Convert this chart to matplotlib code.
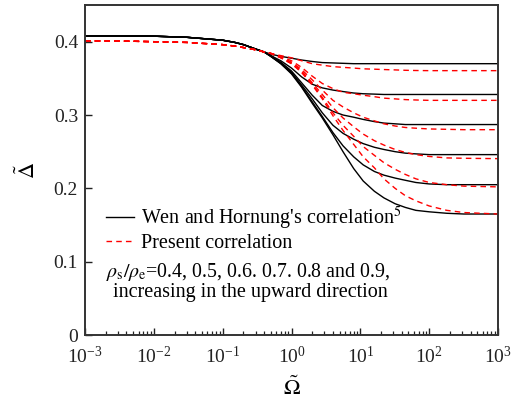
import numpy as np
import matplotlib
matplotlib.use("Agg")
import matplotlib.pyplot as plt

plt.rcParams['font.family'] = ['Liberation Serif', 'DejaVu Serif']
plt.rcParams['mathtext.fontset'] = 'stix'

# Omega grid (read positions)
omega = [1e-3, 3e-3, 1e-2, 3e-2, 0.1, 0.15, 0.2, 0.3, 0.4, 0.5, 0.7, 1, 1.4, 2, 2.8, 4, 5.6, 8,
         11, 16, 22, 32, 45, 64, 100, 180, 320, 1000]

# Wen and Hornung's correlation (black), rho_s/rho_e = 0.9 ... 0.4 (top to bottom)
wen_09 = [0.408, 0.408, 0.4075, 0.406, 0.402, 0.399, 0.396, 0.390, 0.386, 0.383, 0.380, 0.3775, 0.375, 0.373,
          0.3715, 0.371, 0.3705, 0.370, 0.370, 0.370, 0.370, 0.370, 0.370, 0.370, 0.370, 0.370, 0.370, 0.370]
wen_08 = [0.408, 0.408, 0.4075, 0.406, 0.402, 0.399, 0.396, 0.390, 0.386, 0.381, 0.374, 0.364, 0.352, 0.342,
          0.337, 0.334, 0.332, 0.330, 0.329, 0.3285, 0.328, 0.328, 0.328, 0.328, 0.328, 0.328, 0.328, 0.328]
wen_07 = [0.408, 0.408, 0.4075, 0.406, 0.402, 0.399, 0.396, 0.390, 0.386, 0.381, 0.372, 0.360, 0.344, 0.327,
          0.313, 0.305, 0.300, 0.297, 0.294, 0.291, 0.289, 0.288, 0.287, 0.287, 0.287, 0.287, 0.287, 0.287]
wen_06 = [0.408, 0.408, 0.4075, 0.406, 0.402, 0.399, 0.396, 0.390, 0.386, 0.380, 0.371, 0.358, 0.341, 0.322,
          0.303, 0.286, 0.275, 0.267, 0.261, 0.256, 0.253, 0.250, 0.248, 0.247, 0.246, 0.246, 0.246, 0.246]
wen_05 = [0.408, 0.408, 0.4075, 0.406, 0.402, 0.399, 0.396, 0.390, 0.386, 0.380, 0.370, 0.357, 0.339, 0.318,
          0.298, 0.276, 0.258, 0.243, 0.232, 0.223, 0.218, 0.214, 0.211, 0.208, 0.206, 0.205, 0.205, 0.205]
wen_04 = [0.408, 0.408, 0.4075, 0.406, 0.402, 0.399, 0.396, 0.390, 0.386, 0.380, 0.370, 0.356, 0.338, 0.316,
          0.296, 0.273, 0.250, 0.227, 0.210, 0.196, 0.187, 0.179, 0.174, 0.170, 0.168, 0.166, 0.165, 0.165]

# Present correlation (red dashed)
pre_09 = [0.401, 0.401, 0.400, 0.399, 0.396, 0.394, 0.392, 0.389, 0.386, 0.384, 0.381, 0.378, 0.374, 0.370,
          0.368, 0.366, 0.365, 0.364, 0.363, 0.3625, 0.362, 0.3615, 0.361, 0.3607, 0.3605, 0.3605, 0.3605, 0.3605]
pre_08 = [0.401, 0.401, 0.400, 0.399, 0.396, 0.394, 0.392, 0.389, 0.386, 0.384, 0.380, 0.374, 0.365, 0.353,
          0.343, 0.336, 0.331, 0.329, 0.327, 0.325, 0.323, 0.322, 0.321, 0.3205, 0.320, 0.320, 0.320, 0.320]
pre_07 = [0.401, 0.401, 0.400, 0.399, 0.396, 0.394, 0.392, 0.389, 0.386, 0.384, 0.379, 0.372, 0.362, 0.348,
          0.334, 0.320, 0.311, 0.303, 0.297, 0.292, 0.288, 0.285, 0.283, 0.282, 0.281, 0.2805, 0.280, 0.280]
pre_06 = [0.401, 0.401, 0.400, 0.399, 0.396, 0.394, 0.392, 0.389, 0.386, 0.384, 0.379, 0.371, 0.360, 0.344,
          0.328, 0.310, 0.296, 0.284, 0.274, 0.265, 0.259, 0.253, 0.249, 0.246, 0.2435, 0.2415, 0.241, 0.2405]
pre_05 = [0.401, 0.401, 0.400, 0.399, 0.396, 0.394, 0.392, 0.389, 0.386, 0.384, 0.378, 0.370, 0.359, 0.342,
          0.324, 0.303, 0.286, 0.271, 0.257, 0.245, 0.235, 0.226, 0.219, 0.213, 0.208, 0.205, 0.203, 0.202]
pre_04 = [0.401, 0.401, 0.400, 0.399, 0.396, 0.394, 0.392, 0.389, 0.386, 0.384, 0.378, 0.370, 0.358, 0.341,
          0.322, 0.299, 0.279, 0.260, 0.243, 0.228, 0.213, 0.200, 0.190, 0.183, 0.176, 0.170, 0.167, 0.165]

wen_series = [wen_09, wen_08, wen_07, wen_06, wen_05, wen_04]
pre_series = [pre_09, pre_08, pre_07, pre_06, pre_05, pre_04]

yticks = [0, 0.1, 0.2, 0.3, 0.4]
ytick_labels = ["0", "0.1", "0.2", "0.3", "0.4"]
xticks = [1e-3, 1e-2, 1e-1, 1e0, 1e1, 1e2, 1e3]

fig = plt.figure(figsize=(5.13, 4.08), dpi=100)
ax = fig.add_axes([0.1657, 0.1789, 0.8051, 0.8088])

for i, s in enumerate(wen_series):
    ax.plot(omega, s, color='black', lw=1.0,
            label="Wen and Hornung's correlation$^5$" if i == 0 else None)
for i, s in enumerate(pre_series):
    ax.plot(omega, s, color='red', lw=1.0, ls=(0, (4, 3)),
            label="Present correlation" if i == 0 else None)

ax.set_xscale('log')
ax.set_xlim(1e-3, 1e3)
ax.set_ylim(0, 0.45)
ax.set_yticks(yticks)
ax.set_yticklabels(ytick_labels)
ax.set_xticks(xticks)
ax.xaxis.set_minor_locator(matplotlib.ticker.LogLocator(base=10, subs=np.arange(2, 10), numticks=20))

ax.tick_params(which='both', direction='in', top=False, right=False, labelsize=14, colors='#222222')
ax.tick_params(axis='y', which='major', length=5, width=1.0, pad=5)
ax.tick_params(axis='x', which='major', length=5, width=1.0, pad=8)
ax.tick_params(which='minor', length=3, width=0.9)
for sp in ax.spines.values():
    sp.set_linewidth(1.4)
    sp.set_color('#333333')

ax.set_xlabel(r'$\tilde{\mathit{\Omega}}$', fontsize=16, labelpad=7)
ax.set_ylabel(r'$\tilde{\mathit{\Delta}}$', fontsize=16, labelpad=10)

ax.legend(loc='upper left', bbox_to_anchor=(0.05, 0.395), frameon=False,
          fontsize=14.5, handlelength=1.4, handletextpad=0.35, labelspacing=0.12,
          borderaxespad=0, borderpad=0)

ax.text(0.05, 0.19, r'$\rho_{\rm s}/\rho_{\rm e}$=0.4, 0.5, 0.6. 0.7. 0.8 and 0.9,',
        transform=ax.transAxes, fontsize=14.3, va='center', ha='left')
ax.text(0.068, 0.13, 'increasing in the upward direction',
        transform=ax.transAxes, fontsize=14.5, va='center', ha='left')

fig.savefig('out.png', dpi=100)
